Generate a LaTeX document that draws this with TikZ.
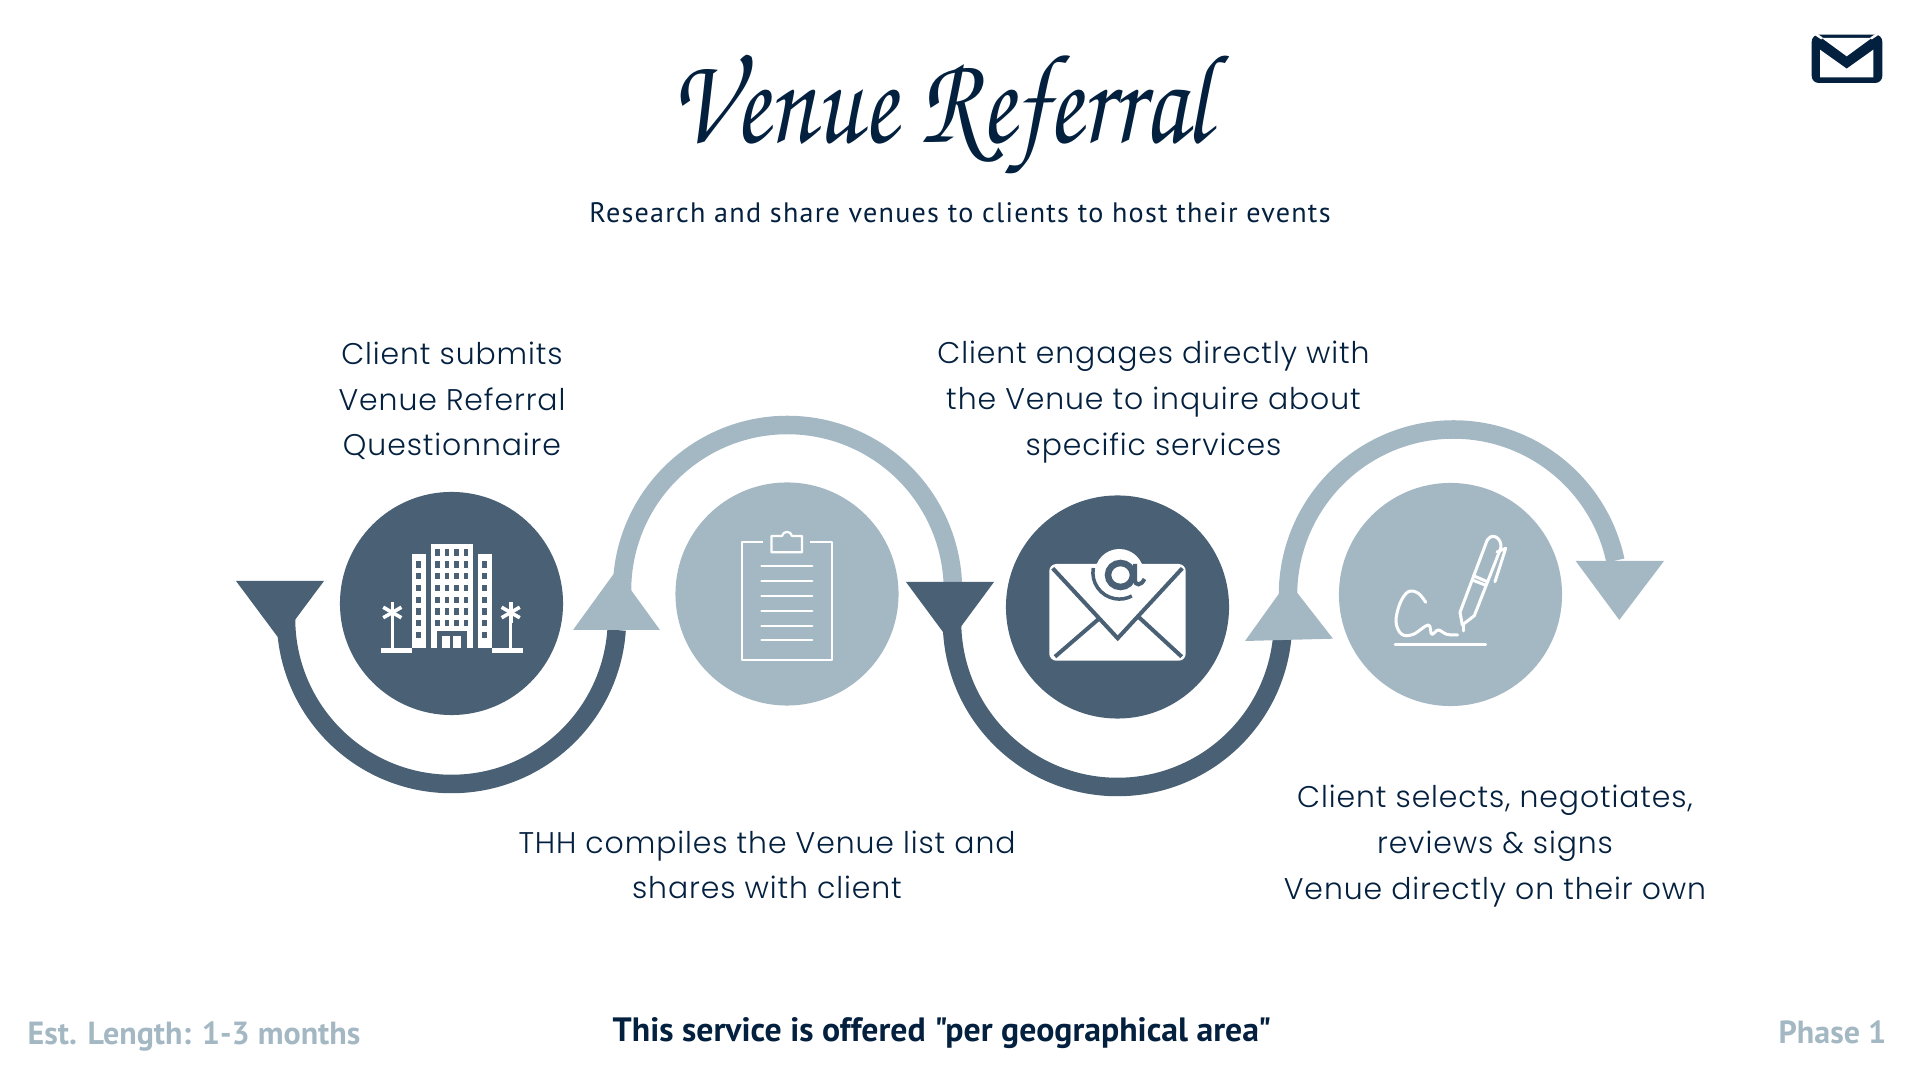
\documentclass[tikz,border=0pt]{standalone}
\usepackage[T1,TU]{fontenc}
\usepackage{fontspec}
\usepackage{xcolor}
\usepackage{tikz}
\usetikzlibrary{positioning, calc}

\setmainfont{Lato}
\newfontfamily\labelfont[LetterSpace=3]{Poppins Light}
\newfontfamily\noticefont{PT Sans}
\newcommand{\titlefont}{\usefont{T1}{pzc}{m}{it}\fontsize{29}{32}\selectfont}

\definecolor{navy}{HTML}{04203F}
\definecolor{slate}{HTML}{4A6075}
\definecolor{mist}{HTML}{A4B8C4}

\tikzset{
  circlenode/.style={circle, minimum size=2.23cm, inner sep=0pt},
  steplabel/.style={font=\labelfont\fontsize{8.5}{13}\selectfont, text=navy, align=center},
  footnote/.style={inner sep=0pt, font=\noticefont\bfseries\fontsize{9.1}{11}\selectfont},
  iconline/.style={draw=white, line width=0.022cm, line cap=round, line join=round},
  penline/.style={draw=white, line width=0.03cm, line cap=round, line join=round},
  ringline/.style={line width=0.185cm}
}

\begin{document}
\begin{tikzpicture}[x=0.01cm, y=-0.01cm]
      \useasboundingbox (0,0) rectangle (1920,1080);

      % title
      \node[text=navy, transform shape, yscale=1.25] (title) at (940.5,117) {\titlefont Venue Referral};
      \node[text=navy, font=\noticefont\fontsize{8}{10}\selectfont] (subtitle) at (960,213) {\addfontfeature{LetterSpace=4.4}Research and share venues to clients to host their events};

      % step circles
      \node[circlenode, fill=slate] (hotel) at (451.5,603.5) {};
      \node[circlenode, fill=mist] (clipboard) at (787,594) {};
      \node[circlenode, fill=slate] (mail) at (1117.5,607) {};
      \node[circlenode, fill=mist] (signature) at (1450.5,594.5) {};

      % ring ends
      \coordinate (hotelring) at (286,618.5);
      \coordinate (clipring) at (622,590.5);
      \coordinate (mailring) at (952,621.5);
      \coordinate (signring) at (1288,595);

      % rings
      \draw[ringline, slate] (hotelring) arc[start angle=180, end angle=4, radius=165.5];
      \draw[ringline, mist] (clipring) arc[start angle=180, end angle=360+3, radius=165.5];
      \draw[ringline, slate] (mailring) arc[start angle=180, end angle=6, radius=165.5];
      \draw[ringline, mist] (signring) arc[start angle=180, end angle=360-12, radius=165.5];

      % arrow heads
      \fill[slate] (236,581) -- (324,581) -- (280,640) -- cycle;
      \fill[mist] (573,630) -- (660,630) -- (616.5,570) -- cycle;
      \fill[slate] (906,582) -- (994,582) -- (950,641.5) -- cycle;
      \fill[mist] (1245,641) -- (1333,638.7) -- (1288,581) -- cycle;
      \fill[mist] (1575.7,561) -- (1664,561) -- (1619.3,620) -- cycle;

      % hotel icon
      \fill[white] (430.7,544) rectangle (472.7,648.3);
      \fill[white] (411.7,554) rectangle (425.7,648.3);
      \fill[white] (477.7,554) rectangle (491.7,648.3);
      \foreach \col in {437.3,447,456.3,466} {
        \foreach \row in {552.5,564.5,576,588,600,611.5,623} {
          \fill[slate] (\col-2.3,\row-3.3) rectangle (\col+2.3,\row+3.3);
        }
      }
      \foreach \col in {418.7,484.7} {
        \foreach \row in {564.5,576,588,600,611.5,623,635} {
          \fill[slate] (\col-2.3,\row-3.3) rectangle (\col+2.3,\row+3.3);
        }
      }
      \fill[slate] (436.5,631.5) rectangle (466.5,648.3);
      \fill[white] (442,636.5) rectangle (450,648.3);
      \fill[white] (453,636.5) rectangle (461,648.3);
      \foreach \palm/\left/\right in {392.3/381/411.7, 510.7/491.7/522.7} {
        \fill[white] (\left,648.3) rectangle (\right,652.8);
        \fill[white] (\palm-1.7,605) rectangle (\palm+1.7,650);
        \foreach \ang in {90,30,-30} {
          \draw[white, line width=0.036cm] ($(\palm,612.5)+(\ang:10.5)$) -- ($(\palm,612.5)+(\ang+180:10.5)$);
        }
      }

      % clipboard icon
      \draw[iconline, line cap=butt] (763,541.7) -- (742,541.7) -- (742,660) -- (831.7,660) -- (831.7,541.7) -- (810,541.7);
      \draw[iconline] (771.5,536) -- (782,536) .. controls (783,530.5) and (791,530.5) .. (792,536) -- (802,536) -- (802,552.3) -- (771.5,552.3) -- cycle;
      \foreach \row in {566.3,581.3,596,610.7,625.7,640} {
        \draw[iconline] (761.4,\row) -- (812.3,\row);
      }

      % mail icon
      \fill[white, rounded corners=0.07cm] (1049.3,564) rectangle (1185.7,660.7);
      \draw[slate, line width=0.04cm] (1052.7,568.3) -- (1117.7,638.3) -- (1182.3,568.3);
      \draw[slate, line width=0.04cm] (1098.3,619.3) -- (1055,656.7);
      \draw[slate, line width=0.04cm] (1138.3,616.7) -- (1181.7,656.7);
      \fill[white] (1119.3,573.5) circle[radius=24.5];
      \draw[slate, line width=0.035cm] (1093.3,568) arc[start angle=190, end angle=62, radius=26.5];
      \draw[slate, line width=0.065cm] (1120.5,575) ellipse[x radius=12.5, y radius=12];
      \draw[slate, line width=0.04cm] (1135,564) -- (1135,580) .. controls (1135,586) and (1141,586) .. (1144.5,579);

      % pen icon
      \draw[penline] plot[smooth, tension=0.6] coordinates {(1425.7,602.3) (1418.3,593.3) (1408.3,591.7) (1400,603.3) (1396,621.7) (1401.7,634.3) (1413.3,634.3) (1428.3,625) (1431.7,634.3) (1438.3,630) (1446.7,634.3) (1457.7,635)};
      \draw[penline] (1395,645) -- (1485.7,645);
      \draw[penline] (1486,543.3) -- (1460,612.3) -- (1462.3,625) -- (1474.3,615.7) -- (1500.7,548.3) .. controls (1503,538) and (1490,530) .. (1486,543.3);
      \draw[penline] (1463.3,625) -- (1463.3,631);
      \draw[penline] (1473.3,575.7) -- (1487.3,581.7);
      \draw[penline] (1472.3,580) -- (1485,585);
      \draw[penline] (1505.7,548.3) -- (1495,581.7);
      \draw[penline] (1497,552) -- (1505.7,548.3);

      % step labels
      \node[steplabel] (submits) at (452,401) {Client submits\\Venue Referral\\Questionnaire};
      \node[steplabel] (engages) at (1153.5,402) {Client engages directly with\\the Venue to inquire about\\specific services};
      \node[steplabel] (compiles) at (767,865) {THH compiles the Venue list and\\shares with client};
      \node[steplabel] (selects) at (1495,846) {Client selects, negotiates,\\reviews \& signs\\Venue directly on their own};

      % footer
      \node[footnote, anchor=west, text=mist] (length) at (27,1037) {Est. Length: 1-3 months};
      \node[footnote, text=navy, font=\noticefont\bfseries\fontsize{9.6}{11}\selectfont] (notice) at (942,1033) {This service is offered "per geographical area"};
      \node[footnote, anchor=east, text=mist] (phase) at (1887,1032) {Phase 1};

      % corner envelope
      \fill[navy, rounded corners=0.07cm] (1811.7,34.7) rectangle (1882.3,83);
      \fill[white] (1820,49.7) -- (1846.7,68.7) -- (1873.3,49.7) -- (1873.3,77.3) -- (1820,77.3) -- cycle;
      \fill[white] (1821.7,38) -- (1871.7,38) -- (1846.7,56.3) -- cycle;
      \draw[white, line width=0.025cm] (1811,31) -- (1822,38.5);
      \draw[white, line width=0.025cm] (1882,31) -- (1871,38.5);
    \end{tikzpicture}
\end{document}
